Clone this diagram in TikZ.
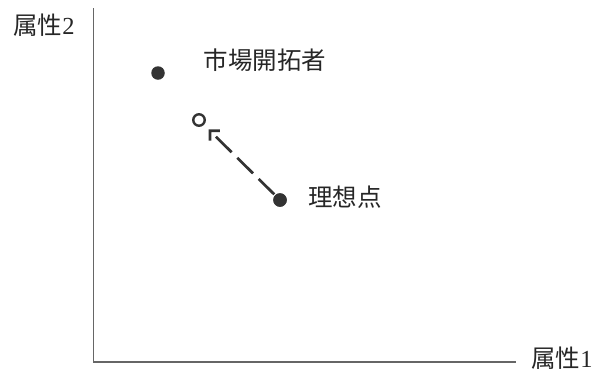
\documentclass[tikz,border=0pt]{standalone}
\usepackage{fontspec}
\setmainfont{Liberation Serif}
\newfontfamily\cjk{Noto Sans CJK JP}
\usetikzlibrary{arrows.meta}
\begin{document}
\begin{tikzpicture}[x=1pt,y=-1pt,
  axis/.style={draw=black!60, line width=1.3pt},
  dot/.style={circle, fill=black!80, inner sep=0pt, minimum size=13.5pt},
  hollow/.style={circle, draw=black!80, line width=2.4pt, fill=white, inner sep=0pt, minimum size=11.5pt},
  lbl/.style={text=black!85, font=\fontsize{24.5}{24.5}\selectfont, inner sep=0pt},
  move/.style={draw=black!80, line width=2.7pt, dash pattern=on 22pt off 8pt, dash phase=22pt,
    -{Straight Barb[length=7pt,width=14pt]}, shorten >=6.5pt}]
\useasboundingbox (0,0) rectangle (594,373);
\coordinate (top) at (93.5,8);
\coordinate (origin) at (93.5,362);
\coordinate (right) at (516,362);
\draw[axis] (top) -- (origin) -- (right);
\node[lbl] (ylab) at (44,25) {{\cjk 属性}2};
\node[lbl] (xlab) at (562,358) {{\cjk 属性}1};
\node[dot] (pioneer) at (158,73) {};
\node[lbl] (pioneerlab) at (265,60) {\cjk 市場開拓者};
\node[dot] (ideal) at (280,200) {};
\node[lbl] (ideallab) at (345,197) {\cjk 理想点};
\node[hollow] (target) at (199,120) {};
\draw[move] (ideal.center) -- (target);
\node[dot] at (280,200) {};
\end{tikzpicture}
\end{document}
